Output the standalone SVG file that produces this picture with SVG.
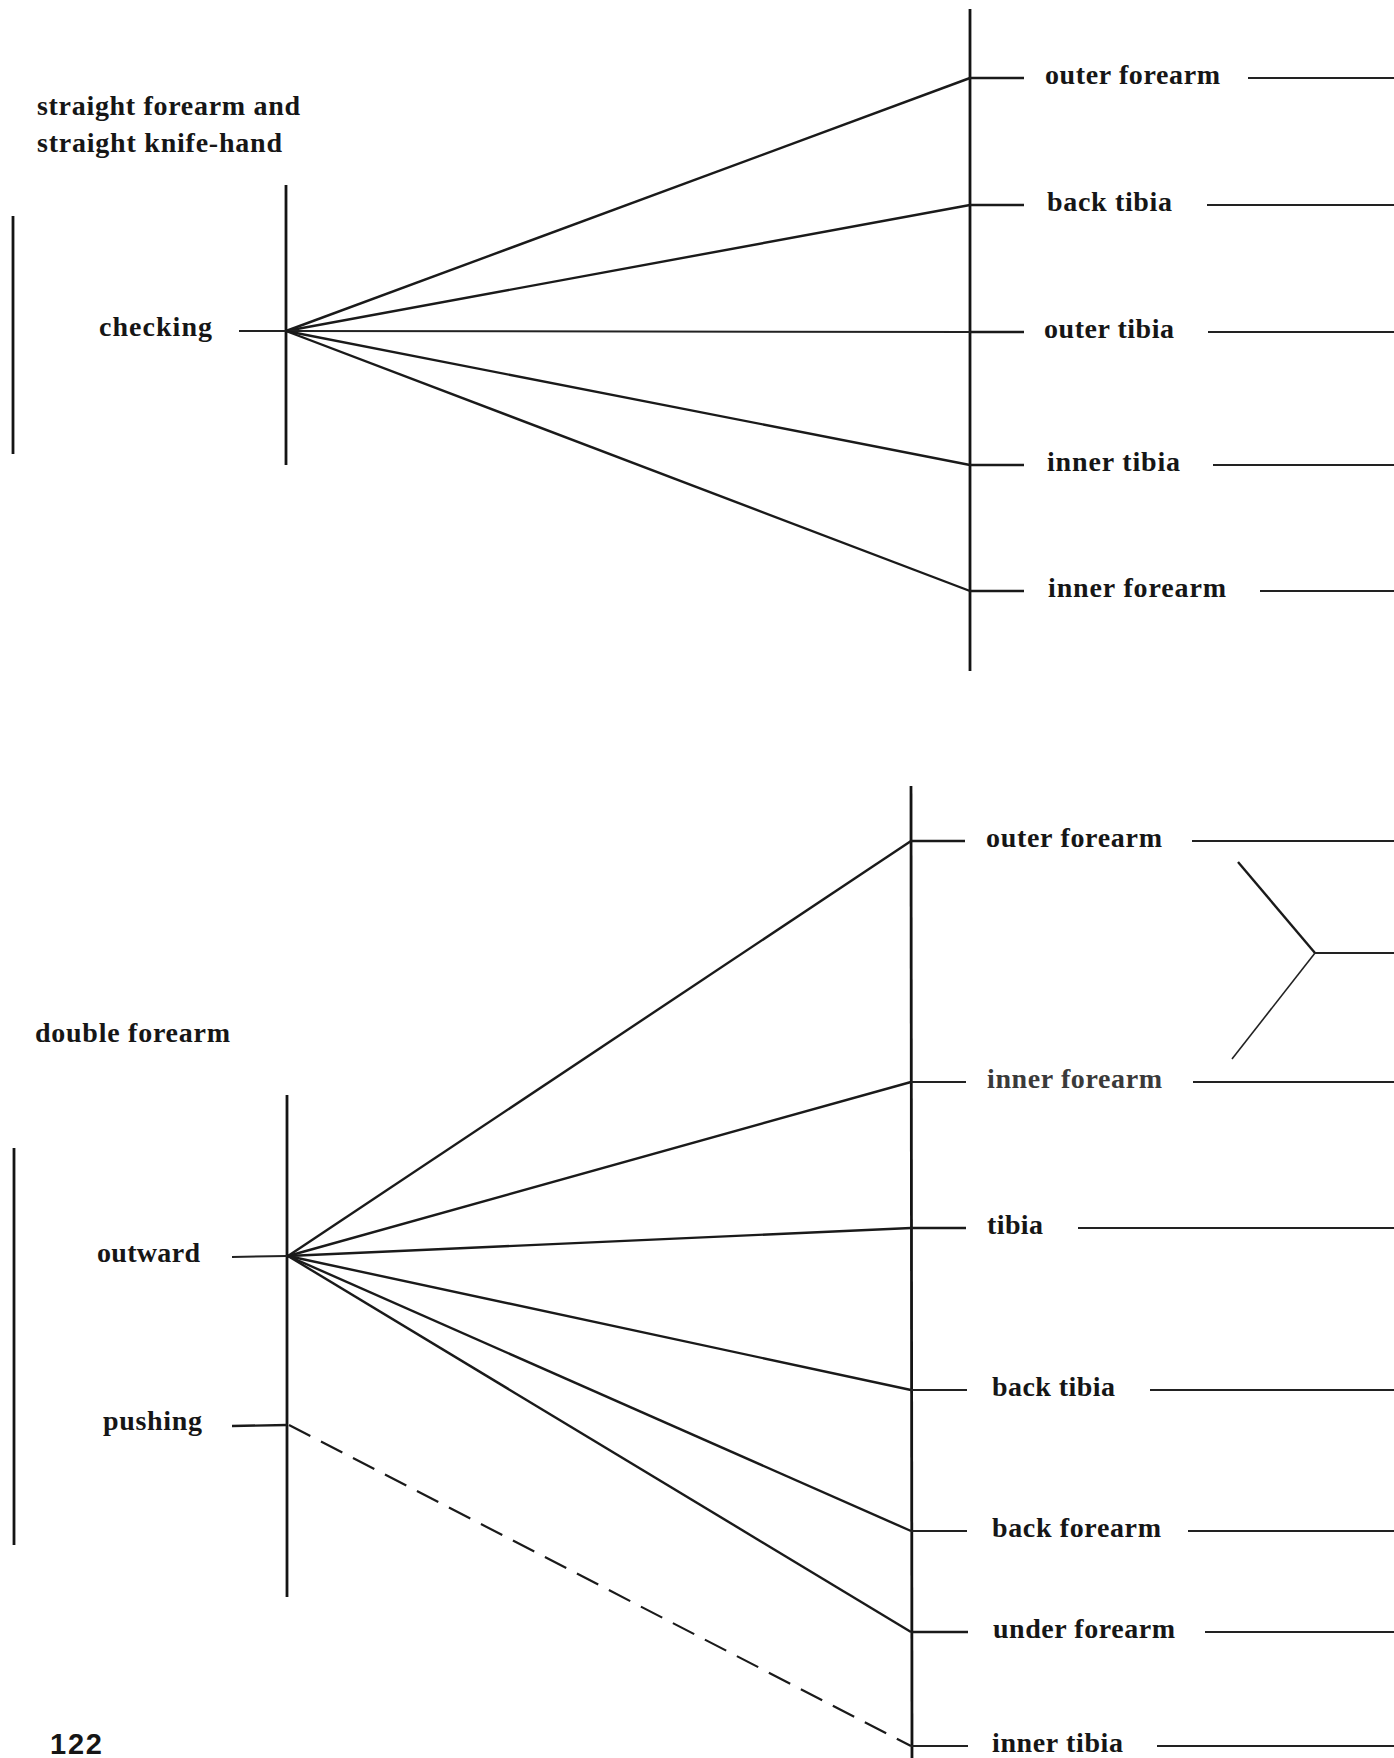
<svg xmlns="http://www.w3.org/2000/svg" width="1394" height="1758" viewBox="0 0 1394 1758">
<style>
.t{font-family:"Liberation Serif","Times New Roman",serif;font-weight:bold;font-size:28px;fill:#161616}
.pg{font-family:"Liberation Sans",Arial,sans-serif;font-weight:bold;font-size:29px;fill:#161616}
.ax{stroke:#141414;stroke-width:2.8;fill:none}
.c{stroke:#1a1a1a;stroke-width:2.4;fill:none}
.r{stroke:#222;stroke-width:2;fill:none}
.d{stroke:#1a1a1a;stroke-width:2.2;fill:none;stroke-dasharray:24 12}
</style>
<rect width="1394" height="1758" fill="#fff"/>

<g id="axes">
<line class="ax" x1="13" y1="216" x2="13" y2="454"/>
<line class="ax" x1="286" y1="185" x2="286" y2="465"/>
<line class="ax" x1="970" y1="9" x2="970" y2="671"/>
<line class="ax" x1="14" y1="1148" x2="14" y2="1545"/>
<line class="ax" x1="287" y1="1095" x2="287" y2="1597"/>
<line class="ax" x1="911" y1="786" x2="912" y2="1758"/>
</g>

<g id="title-top">
<text class="t" x="37" y="115" textLength="263" lengthAdjust="spacing">straight forearm and</text>
<text class="t" x="37" y="152" textLength="245" lengthAdjust="spacing">straight knife-hand</text>
</g>
<g id="n-checking"><text class="t" x="99" y="336" textLength="113" lengthAdjust="spacing">checking</text></g>
<g id="n-t-outer-forearm"><text class="t" x="1045" y="84" textLength="175" lengthAdjust="spacing">outer forearm</text></g>
<g id="n-t-back-tibia"><text class="t" x="1047" y="211" textLength="125" lengthAdjust="spacing">back tibia</text></g>
<g id="n-t-outer-tibia"><text class="t" x="1044" y="338" textLength="130" lengthAdjust="spacing">outer tibia</text></g>
<g id="n-t-inner-tibia"><text class="t" x="1047" y="471" textLength="133" lengthAdjust="spacing">inner tibia</text></g>
<g id="n-t-inner-forearm"><text class="t" x="1048" y="597" textLength="178" lengthAdjust="spacing">inner forearm</text></g>

<g id="title-bottom"><text class="t" x="35" y="1042" textLength="195" lengthAdjust="spacing">double forearm</text></g>
<g id="n-outward"><text class="t" x="97" y="1262" textLength="103" lengthAdjust="spacing">outward</text></g>
<g id="n-pushing"><text class="t" x="103" y="1430" textLength="99" lengthAdjust="spacing">pushing</text></g>
<g id="n-b-outer-forearm"><text class="t" x="986" y="847" textLength="176" lengthAdjust="spacing">outer forearm</text></g>
<g id="n-b-inner-forearm"><text class="t" x="987" y="1088" textLength="175" lengthAdjust="spacing" style="fill:#3a3a3a">inner forearm</text></g>
<g id="n-b-tibia"><text class="t" x="987" y="1234" textLength="56" lengthAdjust="spacing">tibia</text></g>
<g id="n-b-back-tibia"><text class="t" x="992" y="1396" textLength="123" lengthAdjust="spacing">back tibia</text></g>
<g id="n-b-back-forearm"><text class="t" x="992" y="1537" textLength="169" lengthAdjust="spacing">back forearm</text></g>
<g id="n-b-under-forearm"><text class="t" x="993" y="1638" textLength="182" lengthAdjust="spacing">under forearm</text></g>
<g id="n-b-inner-tibia"><text class="t" x="992" y="1752" textLength="131" lengthAdjust="spacing">inner tibia</text></g>

<g id="page-number"><text class="pg" x="50" y="1754" textLength="52" lengthAdjust="spacing">122</text></g>

<g id="connectors">
<line class="r" x1="239" y1="331" x2="286" y2="331"/>
<line class="c" x1="286" y1="331" x2="970" y2="78"/>
<line class="c" x1="286" y1="331" x2="970" y2="205"/>
<line class="r" x1="286" y1="331" x2="970" y2="332"/>
<line class="c" x1="286" y1="331" x2="970" y2="465"/>
<line class="c" x1="286" y1="331" x2="970" y2="591"/>
<line class="c" x1="970" y1="78" x2="1024" y2="78"/>
<line class="c" x1="970" y1="205" x2="1024" y2="205"/>
<line class="c" x1="970" y1="332" x2="1024" y2="332"/>
<line class="c" x1="970" y1="465" x2="1024" y2="465"/>
<line class="c" x1="970" y1="591" x2="1024" y2="591"/>
<line class="r" x1="1248" y1="78" x2="1394" y2="78"/>
<line class="r" x1="1207" y1="205" x2="1394" y2="205"/>
<line class="r" x1="1208" y1="332" x2="1394" y2="332"/>
<line class="r" x1="1213" y1="465" x2="1394" y2="465"/>
<line class="r" x1="1260" y1="591" x2="1394" y2="591"/>

<line class="r" x1="232" y1="1257" x2="287" y2="1256"/>
<line class="c" x1="288" y1="1256" x2="911" y2="841"/>
<line class="c" x1="288" y1="1256" x2="911" y2="1082"/>
<line class="c" x1="288" y1="1256" x2="911" y2="1228"/>
<line class="c" x1="288" y1="1256" x2="911" y2="1390"/>
<line class="c" x1="288" y1="1256" x2="911" y2="1531"/>
<line class="c" x1="288" y1="1256" x2="911" y2="1632"/>
<line class="c" x1="232" y1="1426" x2="287" y2="1425"/>
<line class="d" x1="289" y1="1425" x2="911" y2="1746"/>
<line class="c" x1="911" y1="841" x2="965" y2="841"/>
<line class="r" x1="911" y1="1082" x2="966" y2="1082"/>
<line class="c" x1="911" y1="1228" x2="966" y2="1228"/>
<line class="r" x1="911" y1="1390" x2="967" y2="1390"/>
<line class="r" x1="911" y1="1531" x2="967" y2="1531"/>
<line class="c" x1="911" y1="1632" x2="968" y2="1632"/>
<line class="r" x1="911" y1="1746" x2="968" y2="1746"/>
<line class="r" x1="1192" y1="841" x2="1394" y2="841"/>
<line class="r" x1="1193" y1="1082" x2="1394" y2="1082"/>
<line class="r" x1="1078" y1="1228" x2="1394" y2="1228"/>
<line class="r" x1="1150" y1="1390" x2="1394" y2="1390"/>
<line class="r" x1="1188" y1="1531" x2="1394" y2="1531"/>
<line class="r" x1="1205" y1="1632" x2="1394" y2="1632"/>
<line class="r" x1="1157" y1="1746" x2="1394" y2="1746"/>
<line class="c" x1="1238" y1="862" x2="1315" y2="953"/>
<line class="r" x1="1315" y1="953" x2="1232" y2="1059" style="stroke-width:1.6"/>
<line class="r" x1="1315" y1="953" x2="1394" y2="953"/>
</g>
</svg>
